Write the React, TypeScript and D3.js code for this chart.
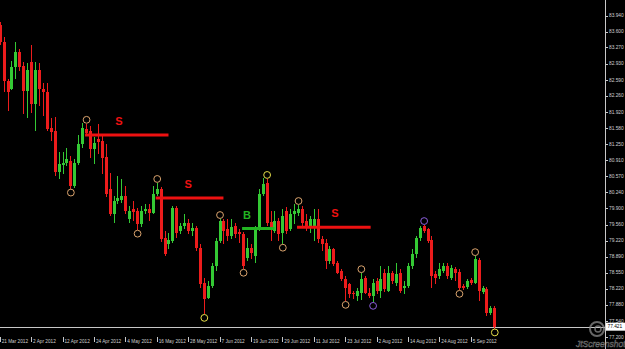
import React from 'react';
import * as d3 from 'd3';

// ---- OHLC data (daily bars, 21 Mar 2012 .. 13 Sep 2012) ----
const opens = [83.733,83.376,82.578,82.410,82.851,83.166,82.872,82.368,82.956,82.095,82.788,82.410,82.347,81.591,81.528,80.667,80.814,80.856,80.898,80.373,80.856,81.255,81.570,81.528,81.150,81.360,81.318,80.982,80.310,79.785,80.058,80.079,80.163,79.680,79.890,79.848,79.575,79.848,79.890,79.806,80.205,80.310,79.281,79.155,79.218,79.911,79.428,79.533,79.596,79.428,79.491,79.071,78.336,78.021,78.273,78.693,79.218,79.638,79.470,79.323,79.533,79.407,79.365,78.861,79.071,78.903,79.470,80.205,80.436,79.617,79.428,79.638,79.386,79.848,79.470,79.785,79.806,79.890,79.638,79.533,79.512,79.680,79.260,79.176,78.798,79.050,78.756,78.588,78.420,78.315,78.126,78.063,78.126,78.441,78.126,78.063,78.378,78.168,78.546,78.168,78.546,78.336,78.546,78.231,78.273,78.693,78.945,79.281,79.533,79.470,79.239,78.525,78.483,78.588,78.693,78.441,78.630,78.567,78.273,78.252,78.399,78.336,78.819,78.147,78.210,77.706,77.811];
const highs = [83.796,83.481,82.620,82.977,83.376,83.229,82.956,82.935,83.313,82.956,82.935,82.536,82.536,81.801,81.822,81.087,81.087,81.171,81.003,80.940,81.444,81.696,81.675,81.633,81.402,81.675,81.423,81.255,80.646,80.163,80.583,80.520,80.373,79.953,80.058,79.911,79.953,79.995,79.995,80.373,80.436,80.352,79.428,79.386,79.953,79.953,79.596,79.785,79.680,79.596,79.533,79.155,78.441,78.378,78.756,79.281,79.680,79.680,79.680,79.680,79.596,79.470,79.407,79.281,79.155,79.533,80.310,80.541,80.520,79.848,79.848,79.701,79.890,79.932,79.890,79.995,79.974,79.953,79.785,79.743,79.890,79.890,79.323,79.260,79.113,79.071,78.798,78.630,78.483,78.336,78.168,78.231,78.546,78.483,78.231,78.420,78.441,78.693,78.630,78.693,78.588,78.756,78.630,78.378,78.756,79.050,79.323,79.533,79.554,79.491,79.323,78.588,78.756,78.756,78.756,78.714,78.672,78.630,78.315,78.420,78.441,78.903,78.861,78.273,78.252,77.853,77.853];
const lows = [83.313,82.347,81.948,82.389,82.620,82.767,81.885,81.801,81.906,81.528,82.053,81.843,81.528,81.318,80.583,80.520,80.625,80.793,80.310,80.331,80.814,81.171,81.444,80.961,80.835,81.045,80.625,80.142,79.743,79.596,79.995,80.016,79.785,79.596,79.638,79.449,79.512,79.785,79.638,79.785,80.163,79.197,78.903,79.050,79.176,79.281,79.365,79.470,79.365,79.323,79.008,78.231,77.685,78.000,78.231,78.588,79.176,79.155,79.218,79.260,79.281,79.176,78.630,78.798,78.840,78.756,79.428,80.163,79.533,79.218,79.386,79.218,79.155,79.365,79.428,79.575,79.743,79.491,79.428,79.386,79.218,79.176,79.008,78.630,78.735,78.693,78.525,78.378,77.958,78.021,78.000,77.958,77.979,78.105,78.021,77.937,78.105,78.021,78.147,78.147,78.315,78.273,78.126,78.105,78.231,78.630,78.861,79.218,79.386,79.176,78.231,78.315,78.420,78.546,78.420,78.399,78.378,78.189,78.189,78.210,78.294,78.315,77.958,78.105,77.643,77.664,77.380];
const closes = [83.376,82.578,82.347,82.851,83.166,82.851,82.368,82.788,82.095,82.788,82.410,82.347,81.570,81.507,80.667,80.835,80.856,80.940,80.373,80.856,81.255,81.591,81.486,81.150,81.276,81.297,80.961,80.205,79.785,80.058,80.121,80.163,79.848,79.848,79.827,79.575,79.848,79.890,79.806,80.205,80.310,79.260,78.945,79.239,79.911,79.386,79.533,79.596,79.428,79.491,79.071,78.315,78.000,78.273,78.693,79.218,79.638,79.428,79.323,79.512,79.365,79.365,78.693,79.071,78.966,79.470,80.205,80.415,79.596,79.512,79.638,79.365,79.743,79.428,79.785,79.848,79.890,79.596,79.533,79.680,79.680,79.260,79.155,78.798,79.050,78.735,78.546,78.420,78.231,78.105,78.105,78.168,78.420,78.126,78.063,78.336,78.168,78.420,78.210,78.546,78.378,78.525,78.168,78.273,78.693,78.945,79.281,79.491,79.428,79.218,78.483,78.441,78.630,78.693,78.483,78.651,78.546,78.231,78.231,78.378,78.336,78.840,78.168,78.231,77.706,77.811,77.421];

// ---- axis labels ----
const dateLabels = ['21 Mar 2012','2 Apr 2012','12 Apr 2012','24 Apr 2012','4 May 2012','16 May 2012','28 May 2012','7 Jun 2012','19 Jun 2012','29 Jun 2012','11 Jul 2012','23 Jul 2012','2 Aug 2012','14 Aug 2012','24 Aug 2012','5 Sep 2012'];
const dateLabelBars = [0,8,16,24,32,40,48,56,64,72,80,88,96,104,112,120];
const priceTicks = [83.940,83.600,83.270,82.930,82.590,82.260,81.920,81.580,81.250,80.910,80.570,80.240,79.900,79.560,79.220,78.890,78.550,78.220,77.880,77.540,77.200];
const lastPrice = 77.421;

// ---- trade signal lines ----
const signalType = ['S','S','B','S'];
const signalStart = [22,40,62,76];
const signalEnd = [43,57,70,94.5];
const signalPrice = [81.438,80.115,79.476,79.505];
const signalLabelBar = [30.4,48,63,85.4];

// ---- swing markers ----
const markerBar = [18,22,35,40,52,56,62,68,72,76,88,92,95,108,117,121,126];
const markerSide = ['low','high','low','high','low','high','low','high','low','high','low','high','low','high','low','high','low'];
const markerKind = ['tan','tan','tan','tan','yellow','tan','tan','yellow','tan','tan','tan','tan','purple','purple','tan','tan','yellow'];

const UP = '#34c934';
const DN = '#ec1c1c';
const markerColor: Record<string,string> = { tan: '#dba46e', yellow: '#e8e04a', purple: '#8b5fdc' };

export default function App() {
  const AXIS_X = 605;
  const x = d3.scaleLinear().domain([0, 126]).range([-0.3, 494.3]);
  const y = d3.scaleLinear().domain([77.54, 83.94]).range([321, 15.5]);
  const bars = d3.range(opens.length).map(i => ({ i, o: opens[i], h: highs[i], l: lows[i], c: closes[i] }));
  const font = "'Liberation Sans', Arial, sans-serif";

  return (
    <svg width={625} height={349} style={{ position: 'absolute', left: 0, top: 0, display: 'block' }} fontFamily={font}>
      <defs>
        <clipPath id="plot"><rect x={0} y={0} width={AXIS_X} height={349} /></clipPath>
      </defs>
      <rect width={625} height={349} fill="#000" />
      <g clipPath="url(#plot)">
        {/* bid line */}
        <line x1={0} x2={AXIS_X} y1={Math.round(y(lastPrice)) + 0.5} y2={Math.round(y(lastPrice)) + 0.5} stroke="#c8c8c8" strokeWidth={1} />
        {bars.map(b => {
          const cx = Math.round(x(b.i));
          const col = b.c >= b.o ? UP : DN;
          const top = y(Math.max(b.o, b.c));
          const bot = y(Math.min(b.o, b.c));
          return (
            <g key={b.i} shapeRendering="crispEdges">
              <line x1={cx + 0.5} x2={cx + 0.5} y1={y(b.h)} y2={y(b.l)} stroke={col} strokeWidth={1} />
              <rect x={cx - 1} y={top} width={3} height={Math.max(1, bot - top)} fill={col} />
            </g>
          );
        })}
        {signalType.map((t, k) => {
          const col = t === 'S' ? '#ee1111' : '#22b422';
          const yy = y(signalPrice[k]);
          return (
            <g key={'s' + k}>
              <line x1={x(signalStart[k]) - 1} x2={x(signalEnd[k])} y1={yy} y2={yy} stroke={col} strokeWidth={3} />
              <text x={x(signalLabelBar[k])} y={yy - 10} fill={col} fontSize={11} fontWeight="bold" textAnchor="middle">{t}</text>
            </g>
          );
        })}
        {markerBar.map((bi, k) => {
          const cy = markerSide[k] === 'high' ? y(highs[bi]) - 3.8 : y(lows[bi]) + 3.8;
          return <circle key={'m' + k} cx={x(bi) + 0.5} cy={cy} r={3.4} fill="none" stroke={markerColor[markerKind[k]]} strokeWidth={1} />;
        })}
      </g>
      {/* price axis */}
      <line x1={AXIS_X + 0.5} x2={AXIS_X + 0.5} y1={0} y2={349} stroke="#c8c8c8" strokeWidth={1} />
      {priceTicks.map(p => (
        <g key={p}>
          <line x1={AXIS_X} x2={AXIS_X + 3} y1={Math.round(y(p)) + 0.5} y2={Math.round(y(p)) + 0.5} stroke="#c8c8c8" />
          <text x={609} y={y(p)} dy="0.35em" fill="#d0d0d0" fontSize={4.8}>{p.toFixed(3)}</text>
        </g>
      ))}
      <rect x={606} y={y(lastPrice) - 4} width={19} height={8} fill="#ffffff" />
      <text x={607.5} y={y(lastPrice)} dy="0.35em" fill="#000" fontSize={4.8}>{lastPrice.toFixed(3)}</text>
      {/* time axis */}
      {dateLabelBars.map((bi, k) => (
        <g key={'d' + k}>
          <line x1={Math.round(x(bi)) + 0.5} x2={Math.round(x(bi)) + 0.5} y1={337} y2={342} stroke="#c8c8c8" />
          <text x={x(bi) + 2} y={342.5} fill="#d0d0d0" fontSize={4.7}>{dateLabels[k]}</text>
        </g>
      ))}
      {/* watermark */}
      <g opacity={0.75}>
        <circle cx={597} cy={329} r={7} fill="none" stroke="#8a8a8a" strokeWidth={2} />
        <circle cx={598} cy={329} r={3} fill="none" stroke="#8a8a8a" strokeWidth={1.5} />
        <text x={576} y={347} fill="none" stroke="#9a9a9a" strokeWidth={0.5} fontSize={8.5} fontStyle="italic">JtScreenshot</text>
      </g>
    </svg>
  );
}
